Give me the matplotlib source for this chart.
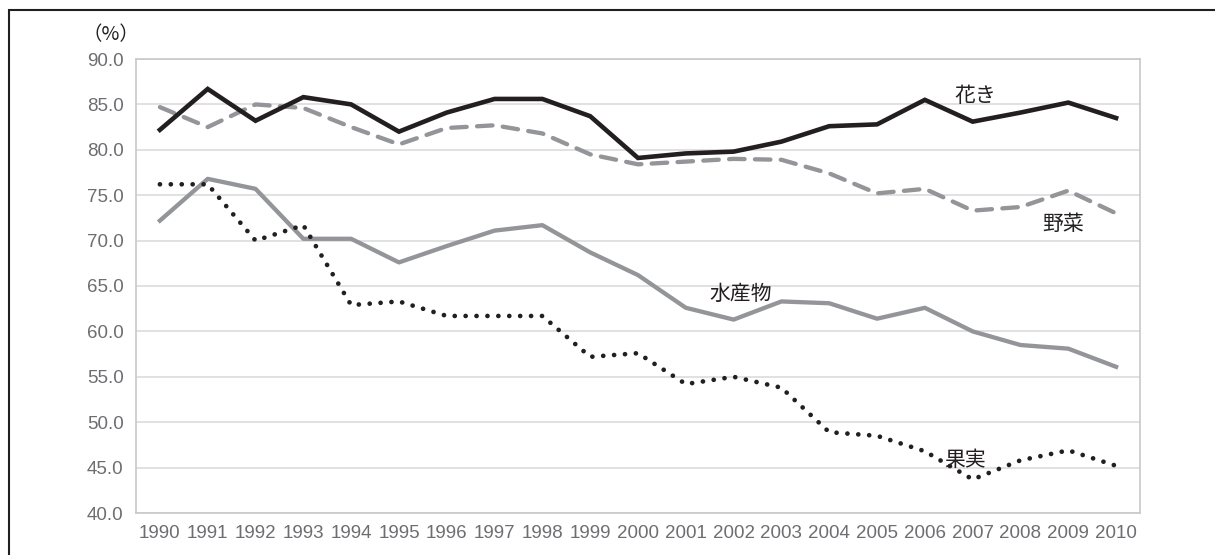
import matplotlib
matplotlib.use("Agg")
import matplotlib.pyplot as plt
from matplotlib.patches import Rectangle

# years on the x axis
years = [str(y) for y in range(1990, 2011)]

# values (%)
hanaki = [82.2, 86.7, 83.2, 85.8, 85.0, 82.0, 84.1, 85.6, 85.6, 83.7, 79.1,
          79.6, 79.8, 80.9, 82.6, 82.8, 85.5, 83.1, 84.1, 85.2, 83.5]
yasai = [84.7, 82.5, 85.0, 84.6, 82.5, 80.6, 82.4, 82.7, 81.8, 79.5, 78.4,
         78.7, 79.0, 78.9, 77.4, 75.2, 75.7, 73.3, 73.7, 75.5, 73.0]
suisan = [72.2, 76.8, 75.7, 70.2, 70.2, 67.6, 69.4, 71.1, 71.7, 68.7, 66.2,
          62.6, 61.3, 63.3, 63.1, 61.4, 62.6, 60.0, 58.5, 58.1, 56.1]
kajitsu = [76.2, 76.2, 70.0, 71.7, 62.9, 63.3, 61.7, 61.7, 61.7, 57.2, 57.6,
           54.2, 55.0, 53.8, 48.9, 48.5, 46.8, 43.7, 45.8, 46.9, 45.2]

yticks = [40, 45, 50, 55, 60, 65, 70, 75, 80, 85, 90]

plt.rcParams['font.family'] = ['Liberation Sans', 'Noto Sans CJK JP', 'DejaVu Sans']
jp = ['Noto Sans CJK JP', 'DejaVu Sans']

fig = plt.figure(figsize=(12.15, 5.55), dpi=100)
ax = fig.add_axes([136/1215, 1-513/555, (1140-136)/1215, (513-59)/555])

x = list(range(len(years)))
ax.plot(x, suisan, color='#939598', lw=3.1, solid_joinstyle='round', zorder=3)
ax.plot(x, kajitsu, color='#231f20', lw=3.4, linestyle=(0, (0.01, 2.3)),
        dash_capstyle='round', zorder=4)
ax.plot(x, yasai, color='#939598', lw=3.1, linestyle=(0, (3.6, 2.4)),
        dash_capstyle='round', zorder=3)
ax.plot(x, hanaki, color='#231f20', lw=3.3, solid_joinstyle='miter', zorder=5)

ax.set_xlim(-0.5, len(years) - 0.5)
ax.set_ylim(40, 90)
ax.set_yticks(yticks)
ax.set_yticklabels([f"{v:.1f}" for v in yticks])
ax.set_xticks(x)
ax.set_xticklabels(years)
ax.tick_params(axis='both', length=0, labelsize=13.5, labelcolor='#6d6e71')
ax.tick_params(axis='y', pad=9)
ax.tick_params(axis='x', pad=9)
ax.grid(axis='y', color='#dcdcdc', lw=1.2)
ax.set_axisbelow(True)
for s in ax.spines.values():
    s.set_color('#c8c8c8')
    s.set_linewidth(1.2)

# series labels
kw = dict(family=jp, fontsize=15, color='#231f20', va='center', ha='center')
ax.text(17.05, 85.9, '花き', **kw)
ax.text(18.9, 71.8, '野菜', **kw)
ax.text(12.15, 64.1, '水産物', **kw)
ax.text(16.85, 45.8, '果実', **kw)

fig.text(111/1215, 1-35/555, '（%）', family=jp, fontsize=14, color='#231f20',
         ha='center', va='center')

# frame around the whole figure (cut off at right and bottom)
fig.patches.append(Rectangle((9/1215, -0.1), 1.2, 1.1 - 10/555,
                             transform=fig.transFigure, fill=False,
                             edgecolor='#231f20', lw=1.5))

fig.savefig('out.png', dpi=100)
